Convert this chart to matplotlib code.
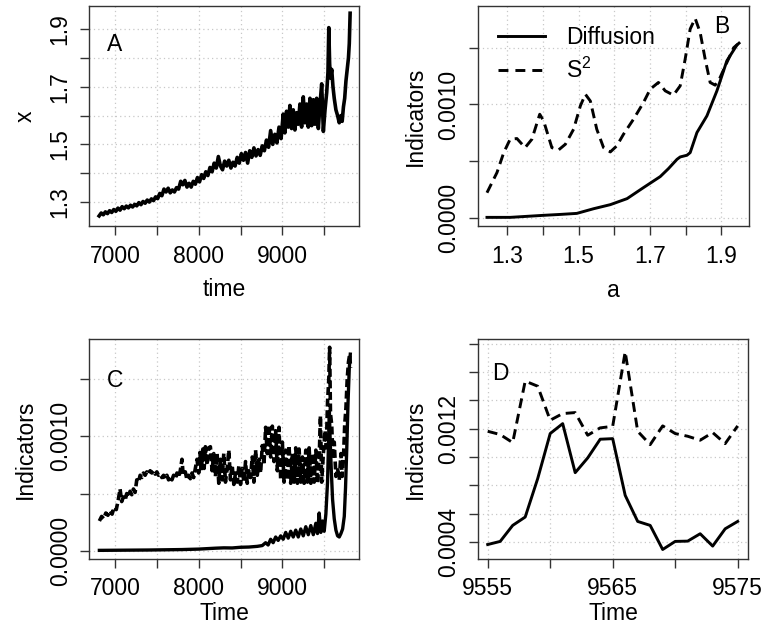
import numpy as np
import matplotlib
matplotlib.use("Agg")
import matplotlib.pyplot as plt
from matplotlib.lines import Line2D

plt.rcParams['font.family'] = ['Liberation Sans', 'DejaVu Sans']
plt.rcParams['mathtext.fontset'] = 'custom'
plt.rcParams['mathtext.rm'] = 'Liberation Sans'
plt.rcParams['mathtext.it'] = 'Liberation Sans'

FS = 16.5

# ---------------- Panel A: x over time ----------------
a_time = [6810, 6835, 6860, 6885, 6910, 6935, 6960, 6985, 7010, 7035, 7060, 7085, 7110, 7135, 7160, 7185,
          7210, 7235, 7260, 7285, 7310, 7335, 7360, 7385, 7410, 7435, 7460, 7485, 7510, 7535, 7560, 7585,
          7610, 7635, 7660, 7685, 7710, 7735, 7760, 7785, 7810, 7835, 7860, 7885, 7910, 7935, 7960, 7985,
          8010, 8035, 8060, 8085, 8110, 8135, 8160, 8185, 8210, 8235, 8260, 8285, 8310, 8335, 8360, 8385,
          8410, 8435, 8460, 8485, 8510, 8535, 8560, 8585, 8610, 8635, 8660, 8685, 8710, 8735, 8760, 8785,
          8810, 8835, 8860, 8885, 8910, 8935, 8960, 8985, 9010, 9030, 9050, 9070, 9090, 9110, 9130, 9150,
          9170, 9190, 9210, 9230, 9250, 9270, 9290, 9310, 9330, 9350, 9370, 9390, 9410, 9430, 9450, 9470,
          9490, 9510, 9530, 9545, 9555, 9565, 9575, 9590, 9605, 9620, 9640, 9660, 9680, 9700, 9715, 9730,
          9745, 9760, 9775, 9790, 9800, 9810]
a_x = [1.252, 1.262, 1.256, 1.266, 1.260, 1.270, 1.264, 1.274, 1.268, 1.279, 1.272, 1.284, 1.277, 1.286, 1.280, 1.289,
       1.283, 1.292, 1.287, 1.298, 1.291, 1.302, 1.296, 1.307, 1.300, 1.311, 1.305, 1.318, 1.312, 1.330, 1.322, 1.345,
       1.335, 1.348, 1.332, 1.342, 1.335, 1.350, 1.345, 1.372, 1.360, 1.375, 1.352, 1.365, 1.352, 1.372, 1.362, 1.385,
       1.370, 1.395, 1.382, 1.405, 1.392, 1.420, 1.405, 1.435, 1.418, 1.458, 1.425, 1.412, 1.442, 1.425, 1.445, 1.418,
       1.438, 1.425, 1.455, 1.435, 1.468, 1.445, 1.472, 1.435, 1.478, 1.455, 1.488, 1.460, 1.482, 1.462, 1.495, 1.478,
       1.515, 1.490, 1.548, 1.500, 1.535, 1.505, 1.560, 1.520, 1.605, 1.540, 1.615, 1.560, 1.635, 1.555, 1.620, 1.550,
       1.610, 1.570, 1.640, 1.560, 1.665, 1.575, 1.640, 1.560, 1.660, 1.565, 1.655, 1.570, 1.660, 1.555, 1.640, 1.710,
       1.545, 1.620, 1.680, 1.750, 1.905, 1.780, 1.730, 1.760, 1.700, 1.660, 1.620, 1.600, 1.575, 1.600, 1.580, 1.630,
       1.660, 1.720, 1.760, 1.800, 1.850, 1.955]

# ---------------- Panel B: indicators vs a ----------------
b_a_diff = [1.243, 1.308, 1.402, 1.449, 1.495, 1.542, 1.589, 1.636, 1.682, 1.729, 1.752, 1.776, 1.785,
            1.804, 1.813, 1.832, 1.860, 1.888, 1.916, 1.944, 1.950]
b_diff = [0.000006, 0.000006, 0.000024, 0.000032, 0.000041, 0.000082, 0.000118, 0.000171, 0.000268, 0.000365,
          0.000435, 0.000517, 0.000538, 0.000553, 0.000576, 0.000753, 0.000900, 0.001120, 0.001385, 0.001523, 0.001540]
b_a_s2 = [1.243, 1.271, 1.290, 1.308, 1.327, 1.350, 1.369, 1.391, 1.402, 1.425, 1.444, 1.463, 1.486, 1.505,
          1.519, 1.533, 1.551, 1.570, 1.589, 1.607, 1.626, 1.654, 1.682, 1.701, 1.724, 1.743, 1.766, 1.785,
          1.799, 1.813, 1.827, 1.841, 1.855, 1.869, 1.883, 1.897, 1.916, 1.935, 1.946]
b_s2 = [0.000223, 0.000400, 0.000576, 0.000694, 0.000700, 0.000620, 0.000694, 0.000914, 0.000855, 0.000620,
        0.000600, 0.000650, 0.000782, 0.000988, 0.001090, 0.001030, 0.000782, 0.000620, 0.000582, 0.000635,
        0.000738, 0.000870, 0.001017, 0.001135, 0.001194, 0.001120, 0.001082, 0.001164, 0.001400, 0.001664,
        0.001758, 0.001634, 0.001400, 0.001194, 0.001170, 0.001238, 0.001370, 0.001500, 0.001530]

# ---------------- Panel C: indicators over time ----------------
c_time_s2 = [6813, 6840, 6865, 6890, 6915, 6940, 6965, 6990, 7015, 7040, 7060, 7080, 7100, 7120, 7140, 7160,
             7180, 7200, 7220, 7240, 7260, 7280, 7300, 7320, 7340, 7360, 7380, 7400, 7420, 7440, 7460, 7480,
             7500, 7520, 7540, 7560, 7580, 7600, 7620, 7640, 7660, 7680, 7700, 7720, 7740, 7760, 7780, 7800,
             7815, 7840, 7860, 7880, 7900, 7920, 7940, 7960, 7980, 8000, 8015, 8030, 8050, 8065, 8080, 8100,
             8120, 8140, 8160, 8180, 8200, 8220, 8240, 8260, 8280, 8300, 8320, 8340, 8360, 8380, 8400, 8420,
             8440, 8460, 8480, 8500, 8520, 8540, 8560, 8580, 8600, 8620, 8640, 8660, 8680, 8700, 8720, 8740,
             8760, 8780, 8800, 8820, 8840, 8860, 8880, 8900, 8920, 8940, 8960, 8980, 9000, 9020, 9040, 9060,
             9080, 9100, 9120, 9140, 9160, 9180, 9200, 9220, 9240, 9260, 9280, 9300, 9320, 9340, 9360, 9380,
             9400, 9420, 9440, 9455, 9470, 9490, 9510, 9525, 9540, 9555, 9565, 9575, 9590, 9605, 9620, 9640,
             9660, 9680, 9700, 9715, 9730, 9745, 9760, 9775, 9790, 9805, 9815]
c_s2 = [0.00026, 0.00030, 0.00028, 0.00033, 0.00031, 0.00035, 0.00032, 0.00038, 0.00036, 0.00045, 0.00054, 0.00043,
        0.00047, 0.00044, 0.00050, 0.00047, 0.00052, 0.00049, 0.00054, 0.00051, 0.00062, 0.00060, 0.00066, 0.00064,
        0.00068, 0.00066, 0.00069, 0.00067, 0.00070, 0.00068, 0.00070, 0.00067, 0.00069, 0.00066, 0.00067, 0.00064,
        0.00066, 0.00063, 0.00066, 0.00062, 0.00065, 0.00062, 0.00066, 0.00063, 0.00068, 0.00064, 0.00070, 0.00080,
        0.00066, 0.00069, 0.00062, 0.00066, 0.00063, 0.00068, 0.00064, 0.00072, 0.00080, 0.00068, 0.00086, 0.00070,
        0.00089, 0.00072, 0.00091, 0.00075, 0.00090, 0.00091, 0.00070, 0.00085, 0.00065, 0.00085, 0.00059, 0.00080,
        0.00062, 0.00085, 0.00060, 0.00072, 0.00088, 0.00062, 0.00075, 0.00058, 0.00068, 0.00060, 0.00074, 0.00058,
        0.00072, 0.00060, 0.00078, 0.00059, 0.00070, 0.00064, 0.00082, 0.00060, 0.00088, 0.00066, 0.00080, 0.00068,
        0.00092, 0.00075, 0.00108, 0.00085, 0.00110, 0.00082, 0.00109, 0.00078, 0.00105, 0.00070, 0.00108, 0.00062,
        0.00095, 0.00060, 0.00088, 0.00062, 0.00092, 0.00059, 0.00085, 0.00060, 0.00090, 0.00059, 0.00089, 0.00060,
        0.00082, 0.00059, 0.00088, 0.00060, 0.00090, 0.00059, 0.00085, 0.00060, 0.00088, 0.00059, 0.00080, 0.00118,
        0.00060, 0.00085, 0.00105, 0.00090, 0.00130, 0.00150, 0.00178, 0.00120, 0.00110, 0.00080, 0.00095, 0.00065,
        0.00072, 0.00062, 0.00085, 0.00065, 0.00080, 0.00110, 0.00125, 0.00150, 0.00165, 0.00172, 0.00160]
c_time_diff = [6813, 7000, 7200, 7400, 7600, 7800, 8000, 8100, 8200, 8300, 8400, 8500, 8600, 8700, 8760, 8800,
               8830, 8860, 8890, 8920, 8950, 8980, 9010, 9040, 9070, 9100, 9130, 9160, 9190, 9220, 9250, 9280,
               9310, 9340, 9370, 9400, 9420, 9440, 9460, 9480, 9500, 9520, 9540, 9555, 9562, 9570, 9585, 9600,
               9620, 9640, 9660, 9680, 9700, 9720, 9740, 9755, 9770, 9785, 9800, 9812]
c_diff = [0.000003, 0.000004, 0.000005, 0.000006, 0.000008, 0.000010, 0.000014, 0.000018, 0.000022, 0.000025,
          0.000024, 0.000030, 0.000032, 0.000038, 0.000045, 0.000070, 0.000050, 0.000100, 0.000070, 0.000120,
          0.000090, 0.000130, 0.000100, 0.000160, 0.000110, 0.000170, 0.000120, 0.000180, 0.000120, 0.000190,
          0.000130, 0.000210, 0.000140, 0.000220, 0.000140, 0.000240, 0.000150, 0.000330, 0.000160, 0.000260,
          0.000170, 0.000320, 0.000600, 0.001050, 0.001220, 0.001000, 0.000700, 0.000450, 0.000280, 0.000180,
          0.000130, 0.000120, 0.000150, 0.000190, 0.000300, 0.000550, 0.000900, 0.001300, 0.001600, 0.001720]

# ---------------- Panel D: zoom on the spike ----------------
d_time = [9555, 9556, 9557, 9558, 9559, 9560, 9561, 9562, 9563, 9564, 9565,
          9566, 9567, 9568, 9569, 9570, 9571, 9572, 9573, 9574, 9575]
d_diff = [0.000382, 0.000404, 0.000517, 0.000576, 0.000847, 0.001165, 0.001235, 0.000889, 0.000993, 0.001125,
          0.001129, 0.000729, 0.000545, 0.000517, 0.000347, 0.000404, 0.000406, 0.000458, 0.000371, 0.000493, 0.000545]
d_s2 = [0.001181, 0.001158, 0.001101, 0.001535, 0.001499, 0.001259, 0.001306, 0.001313, 0.001153, 0.001205,
        0.001216, 0.001742, 0.001181, 0.001087, 0.001219, 0.001165, 0.001146, 0.001118, 0.001172, 0.001094, 0.001219]

W, H = 778, 636
fig = plt.figure(figsize=(W / 100, H / 100), dpi=100)


def px_axes(x0, y0, x1, y1):
    return fig.add_axes([x0 / W, 1 - y1 / H, (x1 - x0) / W, (y1 - y0) / H])


def style(ax, xticks, xlabels, yticks, ylabels):
    ax.set_xticks(xticks)
    ax.set_xticklabels(xlabels)
    ax.set_yticks(yticks)
    ax.set_yticklabels(ylabels)
    ax.grid(True, color='#c8c8c8', linestyle=(0, (1, 2.5)), linewidth=0.9)
    ax.set_axisbelow(True)
    for s in ax.spines.values():
        s.set_linewidth(1.0)
        s.set_color('#333333')
    ax.tick_params(axis='both', direction='out', length=6.5, width=1.0, color='#333333',
                   labelsize=FS)
    ax.tick_params(axis='x', pad=7)
    ax.tick_params(axis='y', pad=6)
    for lab in ax.get_yticklabels():
        lab.set_rotation(90)
        lab.set_va('center')
        lab.set_ha('right')


DASH = (0, (3.4, 2.0))
LW = 2.1

# Panel A
axA = px_axes(89, 6, 359, 226)
axA.plot(a_time, a_x, color='black', lw=2.6)
axA.set_xlim(6689, 9916)
axA.set_ylim(1.217, 1.98)
style(axA, [7000, 7500, 8000, 8500, 9000, 9500], ['7000', '', '8000', '', '9000', ''],
      [1.3, 1.4, 1.5, 1.6, 1.7, 1.8, 1.9], ['1.3', '', '1.5', '', '1.7', '', '1.9'])
axA.text(0.096, 0.825, 'A', transform=axA.transAxes, fontsize=FS, ha='center', va='center')

# Panel B
axB = px_axes(477.7, 6, 749, 226)
axB.plot(b_a_diff, b_diff, color='black', lw=LW)
axB.plot(b_a_s2, b_s2, color='black', lw=LW, linestyle=DASH)
axB.set_xlim(1.217, 1.978)
axB.set_ylim(-0.00007, 0.001867)
style(axB, [1.3, 1.4, 1.5, 1.6, 1.7, 1.8, 1.9], ['1.3', '', '1.5', '', '1.7', '', '1.9'],
      [0.0, 0.0005, 0.0010, 0.0015], ['0.0000', '', '0.0010', ''])
axB.text(0.9005, 0.905, 'B', transform=axB.transAxes, fontsize=FS, ha='center', va='center')
handles = [Line2D([], [], color='black', lw=LW),
           Line2D([], [], color='black', lw=LW, linestyle=(0, (3.4, 2.4)))]
axB.legend(handles, ['Diffusion', r'$\mathregular{S^2}$'], loc='upper left',
           bbox_to_anchor=(0.075, 0.91), frameon=False, fontsize=FS, handlelength=2.05,
           handletextpad=0.92, labelspacing=0.4, borderpad=0, borderaxespad=0)

# Panel C
axC = px_axes(89, 339.3, 359, 558.7)
axC.plot(c_time_diff, c_diff, color='black', lw=2.4)
axC.plot(c_time_s2, c_s2, color='black', lw=2.6, linestyle=(0, (2.2, 1.0)))
axC.set_xlim(6689, 9916)
axC.set_ylim(-0.00007, 0.00185)
style(axC, [7000, 7500, 8000, 8500, 9000, 9500], ['7000', '', '8000', '', '9000', ''],
      [0.0, 0.0005, 0.0010, 0.0015], ['0.0000', '', '0.0010', ''])
axC.text(0.096, 0.812, 'C', transform=axC.transAxes, fontsize=FS, ha='center', va='center')

# Panel D
axD = px_axes(477.7, 339.3, 748.3, 558.7)
axD.plot(d_time, d_diff, color='black', lw=LW)
axD.plot(d_time, d_s2, color='black', lw=LW, linestyle=DASH)
axD.set_xlim(9554.2, 9575.85)
axD.set_ylim(0.000282, 0.00183)
style(axD, [9555, 9560, 9565, 9570, 9575], ['9555', '', '9565', '', '9575'],
      [0.0004, 0.0006, 0.0008, 0.0010, 0.0012, 0.0014, 0.0016, 0.0018],
      ['0.0004', '', '', '', '0.0012', '', '', ''])
axD.text(0.082, 0.842, 'D', transform=axD.transAxes, fontsize=FS, ha='center', va='center')


def ftext(x, y, s, rot=0):
    fig.text(x / W, 1 - y / H, s, fontsize=FS, ha='center', va='baseline',
             rotation=rot, rotation_mode='anchor')


ftext(224, 296, 'time')
ftext(613, 297, 'a')
ftext(224, 620, 'Time')
ftext(613, 620, 'Time')
ftext(31.7, 116, 'x', rot=90)
ftext(421.7, 116, 'Indicators', rot=90)
ftext(31.7, 449, 'Indicators', rot=90)
ftext(421.7, 449, 'Indicators', rot=90)

fig.savefig('out.png', dpi=100)
